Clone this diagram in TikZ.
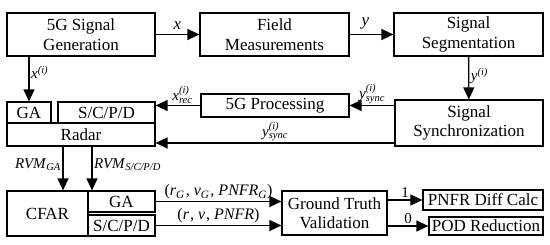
\documentclass[tikz,border=0pt]{standalone}
\usepackage{amsmath}
\usepackage{fontspec}
\setmainfont{Liberation Serif}
\usepackage{tikz}
\usetikzlibrary{arrows.meta,positioning,calc}

\begin{document}
\begin{tikzpicture}[
  x=1pt, y=-1pt,
  blk/.style={draw, line width=1.2pt, align=center, inner sep=0pt,
              font=\fontsize{17}{19.5}\selectfont},
  arr/.style={-{Triangle[length=12pt,width=11pt]}, line width=1.3pt},
  lbl/.style={font=\fontsize{15}{17}\selectfont, inner sep=1.5pt}
]
  \useasboundingbox (0,0) rectangle (550,245);

  % top row
  \node[blk, minimum width=148pt, minimum height=43pt] (gen)   at (81,34.5)    {5G Signal\\Generation};
  \node[blk, minimum width=149pt, minimum height=43pt] (field) at (274.5,34.5) {Field\\Measurements};
  \node[blk, minimum width=149pt, minimum height=43pt] (seg)   at (468.5,34.5) {Signal\\Segmentation};

  % middle row
  \node[blk, minimum width=44pt,  minimum height=21pt] (ga)    at (29,112.5)   {GA};
  \node[blk, minimum width=97pt,  minimum height=21pt] (scpd)  at (106.5,112.5) {S/C/P/D};
  \node[blk, minimum width=148pt, minimum height=23pt] (radar) at (81,134.5)   {Radar};
  \node[blk, minimum width=148pt, minimum height=23pt] (proc)  at (275,105.5)  {5G Processing};
  \node[blk, minimum width=148pt, minimum height=46pt] (sync)  at (469,123)    {Signal\\Synchronization};

  % bottom row
  \node[blk, minimum width=81pt,  minimum height=45pt] (cfar)  at (47.5,213.5) {CFAR};
  \node[blk, minimum width=67pt,  minimum height=21pt] (cga)   at (121.5,201.5) {GA};
  \node[blk, minimum width=67pt,  minimum height=21pt] (cscpd) at (121.5,225.5) {S/C/P/D};
  \node[blk, minimum width=105pt, minimum height=44pt] (gt)    at (334.5,213)  {Ground Truth\\Validation};
  \node[blk, minimum width=120pt, minimum height=20pt] (pnfr)  at (483,200)    {PNFR Diff Calc};
  \node[blk, minimum width=114pt, minimum height=18pt] (pod)   at (486,226)    {POD Reduction};

  % connectors
  \draw[arr] (gen) -- (field) node[lbl, font=\fontsize{17}{19}\selectfont, midway, above, yshift=3pt] {\textit{x}};
  \draw[arr] (field) -- (seg) node[lbl, font=\fontsize{17}{19}\selectfont, midway, above, yshift=3pt, xshift=-6pt] {\textit{y}};
  \draw[arr] (gen.south -| ga.north) -- (ga.north)
    node[lbl, pos=0.35, right] {\textit{x}$^{\textit{(i)}}$};
  \draw[arr] (seg) -- (sync) node[lbl, pos=0.45, right] {\textit{y}$^{\textit{(i)}}$};
  \draw[arr] (sync.west |- proc.east) -- (proc.east)
    node[lbl, midway, above] {\textit{y}$^{\textit{(i)}}_{\textit{sync}}$};
  \draw[arr] (proc.west) -- (proc.west -| scpd.east)
    node[lbl, pos=0.4, above] {\textit{x}$^{\textit{(i)}}_{\textit{rec}}$};
  \draw[arr] ($(sync.west)+(0,20)$) coordinate (s1) -- (s1 -| radar.east)
    node[lbl, midway, above] {\textit{y}$^{\textit{(i)}}_{\textit{sync}}$};
  \draw[arr] ($(radar.south)+(-18,0)$) coordinate (r1) -- (r1 |- cfar.north)
    node[lbl, pos=0.42, left] {\textit{RVM}$_{\textit{GA}}$};
  \draw[arr] ($(radar.south)+(11,0)$) coordinate (r2) -- (r2 |- cfar.north)
    node[lbl, pos=0.42, right] {\textit{RVM}$_{\textit{S/C/P/D}}$};
  \draw[arr] (cga.east) -- (cga.east -| gt.west)
    node[lbl, font=\fontsize{16}{18}\selectfont, midway, above]
    {(\textit{r}$_{\textit{G}}$\kern1pt, \textit{v}$_{\textit{G}}$\kern1pt, \textit{PNFR}$_{\textit{G}}$)};
  \draw[arr] (cscpd.east) -- (cscpd.east -| gt.west)
    node[lbl, font=\fontsize{16}{18}\selectfont, midway, above]
    {(\textit{r}\kern1pt, \textit{v}\kern1pt, \textit{PNFR})};
  \draw[arr] (gt.east |- pnfr.west) -- (pnfr.west) node[lbl, midway, above] {1};
  \draw[arr] (gt.east |- pod.west) -- (pod.west) node[lbl, midway, above] {0};
\end{tikzpicture}
\end{document}
